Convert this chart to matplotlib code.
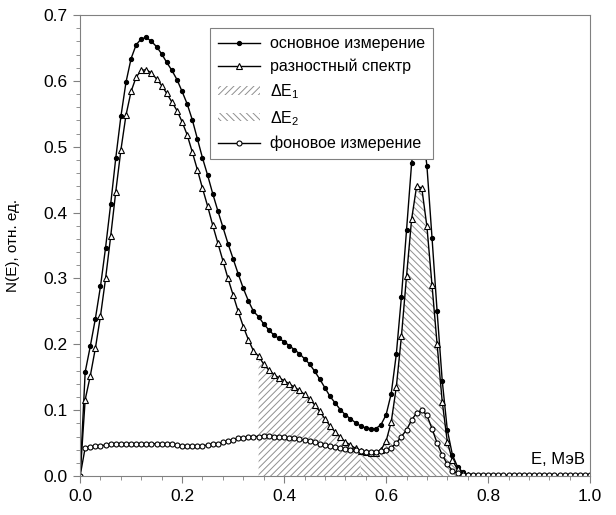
import matplotlib
matplotlib.use("Agg")
import matplotlib.pyplot as plt
import numpy as np

plt.rcParams["font.family"] = ["Liberation Sans", "DejaVu Sans"]
plt.rcParams["mathtext.fontset"] = "custom"
plt.rcParams["mathtext.rm"] = "Liberation Sans"
plt.rcParams["mathtext.it"] = "Liberation Sans:italic"
plt.rcParams["hatch.linewidth"] = 0.7

# energy grid, MeV (one point every 0.01)
energy = np.round(np.arange(0, 101) * 0.01, 2)

# основное измерение
main = [0.000, 0.158, 0.197, 0.239, 0.288, 0.347, 0.413, 0.483, 0.546, 0.598,
        0.634, 0.655, 0.664, 0.666, 0.660, 0.652, 0.641, 0.628, 0.616, 0.602,
        0.584, 0.565, 0.541, 0.512, 0.483, 0.457, 0.429, 0.403, 0.378, 0.353,
        0.330, 0.307, 0.285, 0.266, 0.250, 0.242, 0.231, 0.222, 0.214, 0.209,
        0.204, 0.198, 0.192, 0.186, 0.178, 0.170, 0.159, 0.147, 0.134, 0.121,
        0.111, 0.101, 0.093, 0.087, 0.081, 0.076, 0.073, 0.072, 0.072, 0.078,
        0.093, 0.125, 0.185, 0.272, 0.373, 0.475, 0.537, 0.537, 0.471, 0.362,
        0.250, 0.145, 0.070, 0.032, 0.014, 0.006, 0.002, 0.001, 0.000, 0.000,
        0.000, 0.000, 0.000, 0.000, 0.000, 0.000, 0.000, 0.000, 0.000, 0.000,
        0.000, 0.000, 0.000, 0.000, 0.000, 0.000, 0.000, 0.000, 0.000, 0.000,
        0.000]

# разностный спектр
diff = [0.000, 0.116, 0.152, 0.194, 0.243, 0.300, 0.364, 0.432, 0.495, 0.548,
        0.584, 0.606, 0.616, 0.617, 0.612, 0.603, 0.593, 0.581, 0.568, 0.555,
        0.538, 0.518, 0.492, 0.465, 0.437, 0.410, 0.381, 0.354, 0.327, 0.300,
        0.275, 0.250, 0.227, 0.207, 0.190, 0.182, 0.170, 0.161, 0.154, 0.149,
        0.145, 0.140, 0.135, 0.130, 0.124, 0.117, 0.108, 0.098, 0.087, 0.076,
        0.067, 0.059, 0.052, 0.047, 0.042, 0.038, 0.036, 0.035, 0.035, 0.040,
        0.053, 0.082, 0.135, 0.212, 0.303, 0.390, 0.441, 0.437, 0.379, 0.290,
        0.200, 0.113, 0.052, 0.024, 0.010, 0.004, 0.001, 0.000, 0.000, 0.000,
        0.000, 0.000, 0.000, 0.000, 0.000, 0.000, 0.000, 0.000, 0.000, 0.000,
        0.000, 0.000, 0.000, 0.000, 0.000, 0.000, 0.000, 0.000, 0.000, 0.000,
        0.000]

# фоновое измерение
background = [0.000, 0.043, 0.044, 0.045, 0.046, 0.047, 0.048, 0.049, 0.049, 0.049,
              0.049, 0.048, 0.048, 0.048, 0.049, 0.049, 0.049, 0.048, 0.048, 0.047,
              0.046, 0.046, 0.045, 0.045, 0.046, 0.047, 0.048, 0.049, 0.051, 0.053,
              0.055, 0.057, 0.058, 0.059, 0.060, 0.060, 0.061, 0.061, 0.060, 0.060,
              0.059, 0.058, 0.057, 0.056, 0.054, 0.053, 0.051, 0.049, 0.047, 0.045,
              0.044, 0.042, 0.041, 0.040, 0.039, 0.038, 0.037, 0.037, 0.037, 0.038,
              0.040, 0.043, 0.050, 0.060, 0.070, 0.085, 0.096, 0.100, 0.092, 0.072,
              0.050, 0.032, 0.018, 0.008, 0.004, 0.002, 0.001, 0.001, 0.001, 0.001,
              0.001, 0.001, 0.001, 0.001, 0.001, 0.001, 0.001, 0.001, 0.001, 0.001,
              0.001, 0.001, 0.001, 0.001, 0.001, 0.001, 0.001, 0.001, 0.001, 0.001,
              0.001]

de1_range = (0.35, 0.55)
de2_range = (0.55, 0.77)

fig = plt.figure(figsize=(6.16, 5.15), dpi=100)
ax = fig.add_axes([0.130, 0.0757, 0.828, 0.895])

diff_arr = np.array(diff)
m1 = (energy >= de1_range[0]) & (energy <= de1_range[1])
m2 = (energy >= de2_range[0]) & (energy <= de2_range[1])
ax.fill_between(energy, 0, diff_arr, where=m1, facecolor="none",
                edgecolor="#909090", hatch="/////", linewidth=0, label="ΔE$_1$")
ax.fill_between(energy, 0, diff_arr, where=m2, facecolor="none",
                edgecolor="#909090", hatch="\\\\\\\\\\", linewidth=0, label="ΔE$_2$")

ax.plot(energy, main, color="black", lw=1.0, marker="o", ms=2.8,
        mfc="black", mec="black", label="основное измерение")
ax.plot(energy, diff, color="black", lw=1.0, marker="^", ms=4.0,
        mfc="white", mec="black", mew=0.8, label="разностный спектр")
ax.plot(energy, background, color="black", lw=1.0, marker="o", ms=3.6,
        mfc="white", mec="black", mew=0.8, label="фоновое измерение")

ax.set_xlim(0, 1.0)
ax.set_ylim(0, 0.7)
ax.set_xticks(np.arange(0, 1.01, 0.2))
ax.set_yticks(np.arange(0, 0.71, 0.1))
ax.set_xticks(np.arange(0, 1.001, 0.04), minor=True)
ax.set_yticks(np.arange(0, 0.701, 0.02), minor=True)
ax.xaxis.set_major_formatter(matplotlib.ticker.FormatStrFormatter("%.1f"))
ax.yaxis.set_major_formatter(matplotlib.ticker.FormatStrFormatter("%.1f"))
ax.tick_params(which="major", length=5, color="#808080", labelsize=12.5, pad=4)
ax.tick_params(which="minor", length=3, color="#808080")
for s in ax.spines.values():
    s.set_color("#808080")

ax.set_ylabel("N(E), отн. ед.", fontsize=11)
ax.yaxis.set_label_coords(-0.118, 0.5)
ax.text(0.99, 0.02, "E, МэВ", transform=ax.transAxes, ha="right", va="bottom",
        fontsize=12)

h, l = ax.get_legend_handles_labels()
order = [2, 3, 0, 1, 4]
leg = ax.legend([h[i] for i in order], [l[i] for i in order],
                loc="upper left", bbox_to_anchor=(0.24, 0.99), fontsize=11.5,
                fancybox=False, edgecolor="#808080", framealpha=1,
                handlelength=2.6, handleheight=0.45, labelspacing=0.5,
                borderpad=0.5, handletextpad=0.6)
leg.get_frame().set_linewidth(0.8)

fig.savefig("out.png", dpi=100)
